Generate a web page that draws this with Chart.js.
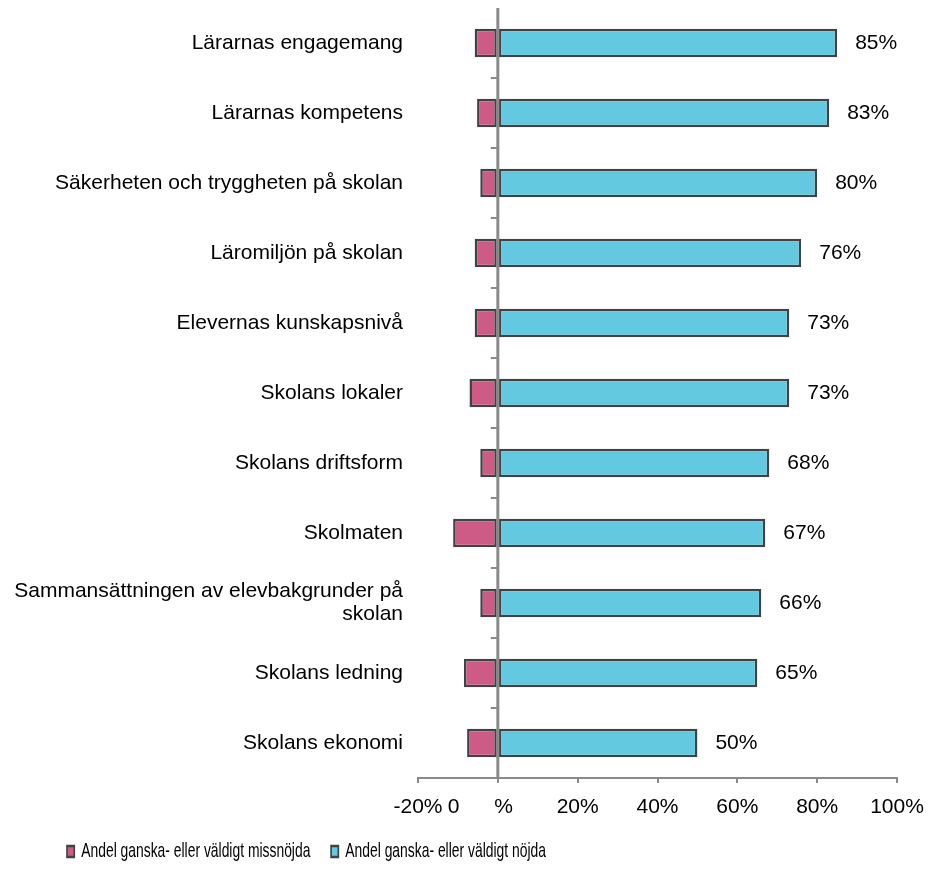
<!DOCTYPE html>
<html><head><meta charset="utf-8">
<script src="https://cdn.jsdelivr.net/npm/chart.js@4"></script>
<style>html,body{margin:0;padding:0;background:#fff}#wrap{width:930px;height:872px;position:relative}</style>
</head><body><div id="wrap"><canvas id="c"></canvas></div>
<script>
const categories = [
  'Lärarnas engagemang',
  'Lärarnas kompetens',
  'Säkerheten och tryggheten på skolan',
  'Läromiljön på skolan',
  'Elevernas kunskapsnivå',
  'Skolans lokaler',
  'Skolans driftsform',
  'Skolmaten',
  ['Sammansättningen av elevbakgrunder på', 'skolan'],
  'Skolans ledning',
  'Skolans ekonomi'
];
const dissatisfied = [-5.8, -5.2, -4.4, -5.8, -5.8, -7.1, -4.4, -11.2, -4.4, -8.5, -7.7];
const satisfied = [85, 83, 80, 76, 73, 73, 68, 67, 66, 65, 50];
const seriesNames = ['Andel ganska- eller väldigt missnöjda', 'Andel ganska- eller väldigt nöjda'];
const tickValues = [-20, 0, 20, 40, 60, 80, 100];
const tickLabels = ['-20%', '0      %      ', '20%', '40%', '60%', '80%', '100%'];

const FONT = "'Liberation Sans', Arial, Helvetica, sans-serif";
const AXIS = '#8a8a8a';
const LEGEND_SX = 0.661;
const LEGEND_X = 67;

const zeroAxisPlugin = {
  id: 'zeroAxis',
  afterDatasetsDraw(chart) {
    const {ctx, chartArea, scales: {x, y}} = chart;
    const x0 = x.getPixelForValue(0);
    ctx.save();
    ctx.strokeStyle = AXIS;
    ctx.lineWidth = 3;
    ctx.beginPath();
    ctx.moveTo(x0, chartArea.top);
    ctx.lineTo(x0, chartArea.bottom);
    ctx.stroke();
    ctx.lineWidth = 2;
    const n = categories.length;
    for (let i = 0; i + 1 < n; i++) {
      const yb = (y.getPixelForValue(i) + y.getPixelForValue(i + 1)) / 2;
      ctx.beginPath();
      ctx.moveTo(x0 - 7, yb);
      ctx.lineTo(x0, yb);
      ctx.stroke();
    }
    ctx.restore();
  }
};

const valueLabelPlugin = {
  id: 'valueLabels',
  afterDatasetsDraw(chart) {
    const {ctx} = chart;
    const meta = chart.getDatasetMeta(1);
    ctx.save();
    ctx.font = '21px ' + FONT;
    ctx.fillStyle = '#000';
    ctx.textAlign = 'left';
    ctx.textBaseline = 'middle';
    meta.data.forEach((el, i) => {
      ctx.fillText(satisfied[i] + '%', el.x + 18, el.y);
    });
    ctx.restore();
  }
};

// legend text in the reference is horizontally condensed
const legendSqueezePlugin = {
  id: 'legendSqueeze',
  afterInit(chart) {
    const lg = chart.legend;
    if (!lg) return;
    const orig = lg.draw;
    lg.draw = function (...args) {
      const ctx = this.ctx;
      const a = this.left + this.options.labels.padding;
      ctx.save();
      ctx.translate(LEGEND_X, 0);
      ctx.scale(LEGEND_SX, 1);
      ctx.translate(-a, 0);
      orig.apply(this, args);
      ctx.restore();
    };
  }
};

new Chart(document.getElementById('c'), {
  type: 'bar',
  data: {
    labels: categories,
    datasets: [
      {
        label: seriesNames[0],
        data: dissatisfied,
        backgroundColor: '#cd5b86',
        borderColor: '#3f4343',
        borderWidth: 2.5,
        borderSkipped: false,
        barPercentage: 0.41,
        categoryPercentage: 1
      },
      {
        label: seriesNames[1],
        data: satisfied,
        backgroundColor: '#63c9e0',
        borderColor: '#3f4343',
        borderWidth: 2.5,
        borderSkipped: false,
        barPercentage: 0.41,
        categoryPercentage: 1
      }
    ]
  },
  options: {
    indexAxis: 'y',
    responsive: true,
    maintainAspectRatio: false,
    animation: false,
    layout: {padding: {top: 8, left: 0, right: 33, bottom: 0}},
    scales: {
      x: {
        stacked: true,
        min: -20, max: 100,
        afterBuildTicks(s) { s.ticks = tickValues.map(v => ({value: v})); },
        afterFit(s) { s.height = 55; s.paddingLeft = 0; s.paddingRight = 0; },
        ticks: {
          callback: (v) => { const k = tickValues.indexOf(v); return k >= 0 ? tickLabels[k] : ''; },
          font: {size: 21, family: FONT},
          color: '#000',
          padding: 12,
          maxRotation: 0, autoSkip: false
        },
        grid: {display: true, drawOnChartArea: false, drawTicks: true, tickLength: 5, tickColor: AXIS, lineWidth: 2, color: AXIS},
        border: {display: true, color: AXIS, width: 2}
      },
      y: {
        stacked: true,
        afterFit(s) { s.width = 418; s.paddingTop = 0; s.paddingBottom = 0; },
        ticks: {font: {size: 21, family: FONT, lineHeight: 1.1}, color: '#000', padding: 15},
        grid: {display: false, drawTicks: false},
        border: {display: false}
      }
    },
    plugins: {
      legend: {
        position: 'bottom',
        align: 'start',
        labels: {
          boxWidth: 11, boxHeight: 11, padding: 8,
          color: '#000',
          font: {size: 21, family: FONT},
          generateLabels(chart) {
            const items = Chart.defaults.plugins.legend.labels.generateLabels(chart);
            if (items[0]) items[0].text += '    ';
            return items;
          }
        }
      },
      tooltip: {enabled: false}
    }
  },
  plugins: [zeroAxisPlugin, valueLabelPlugin, legendSqueezePlugin]
});
</script></body></html>
